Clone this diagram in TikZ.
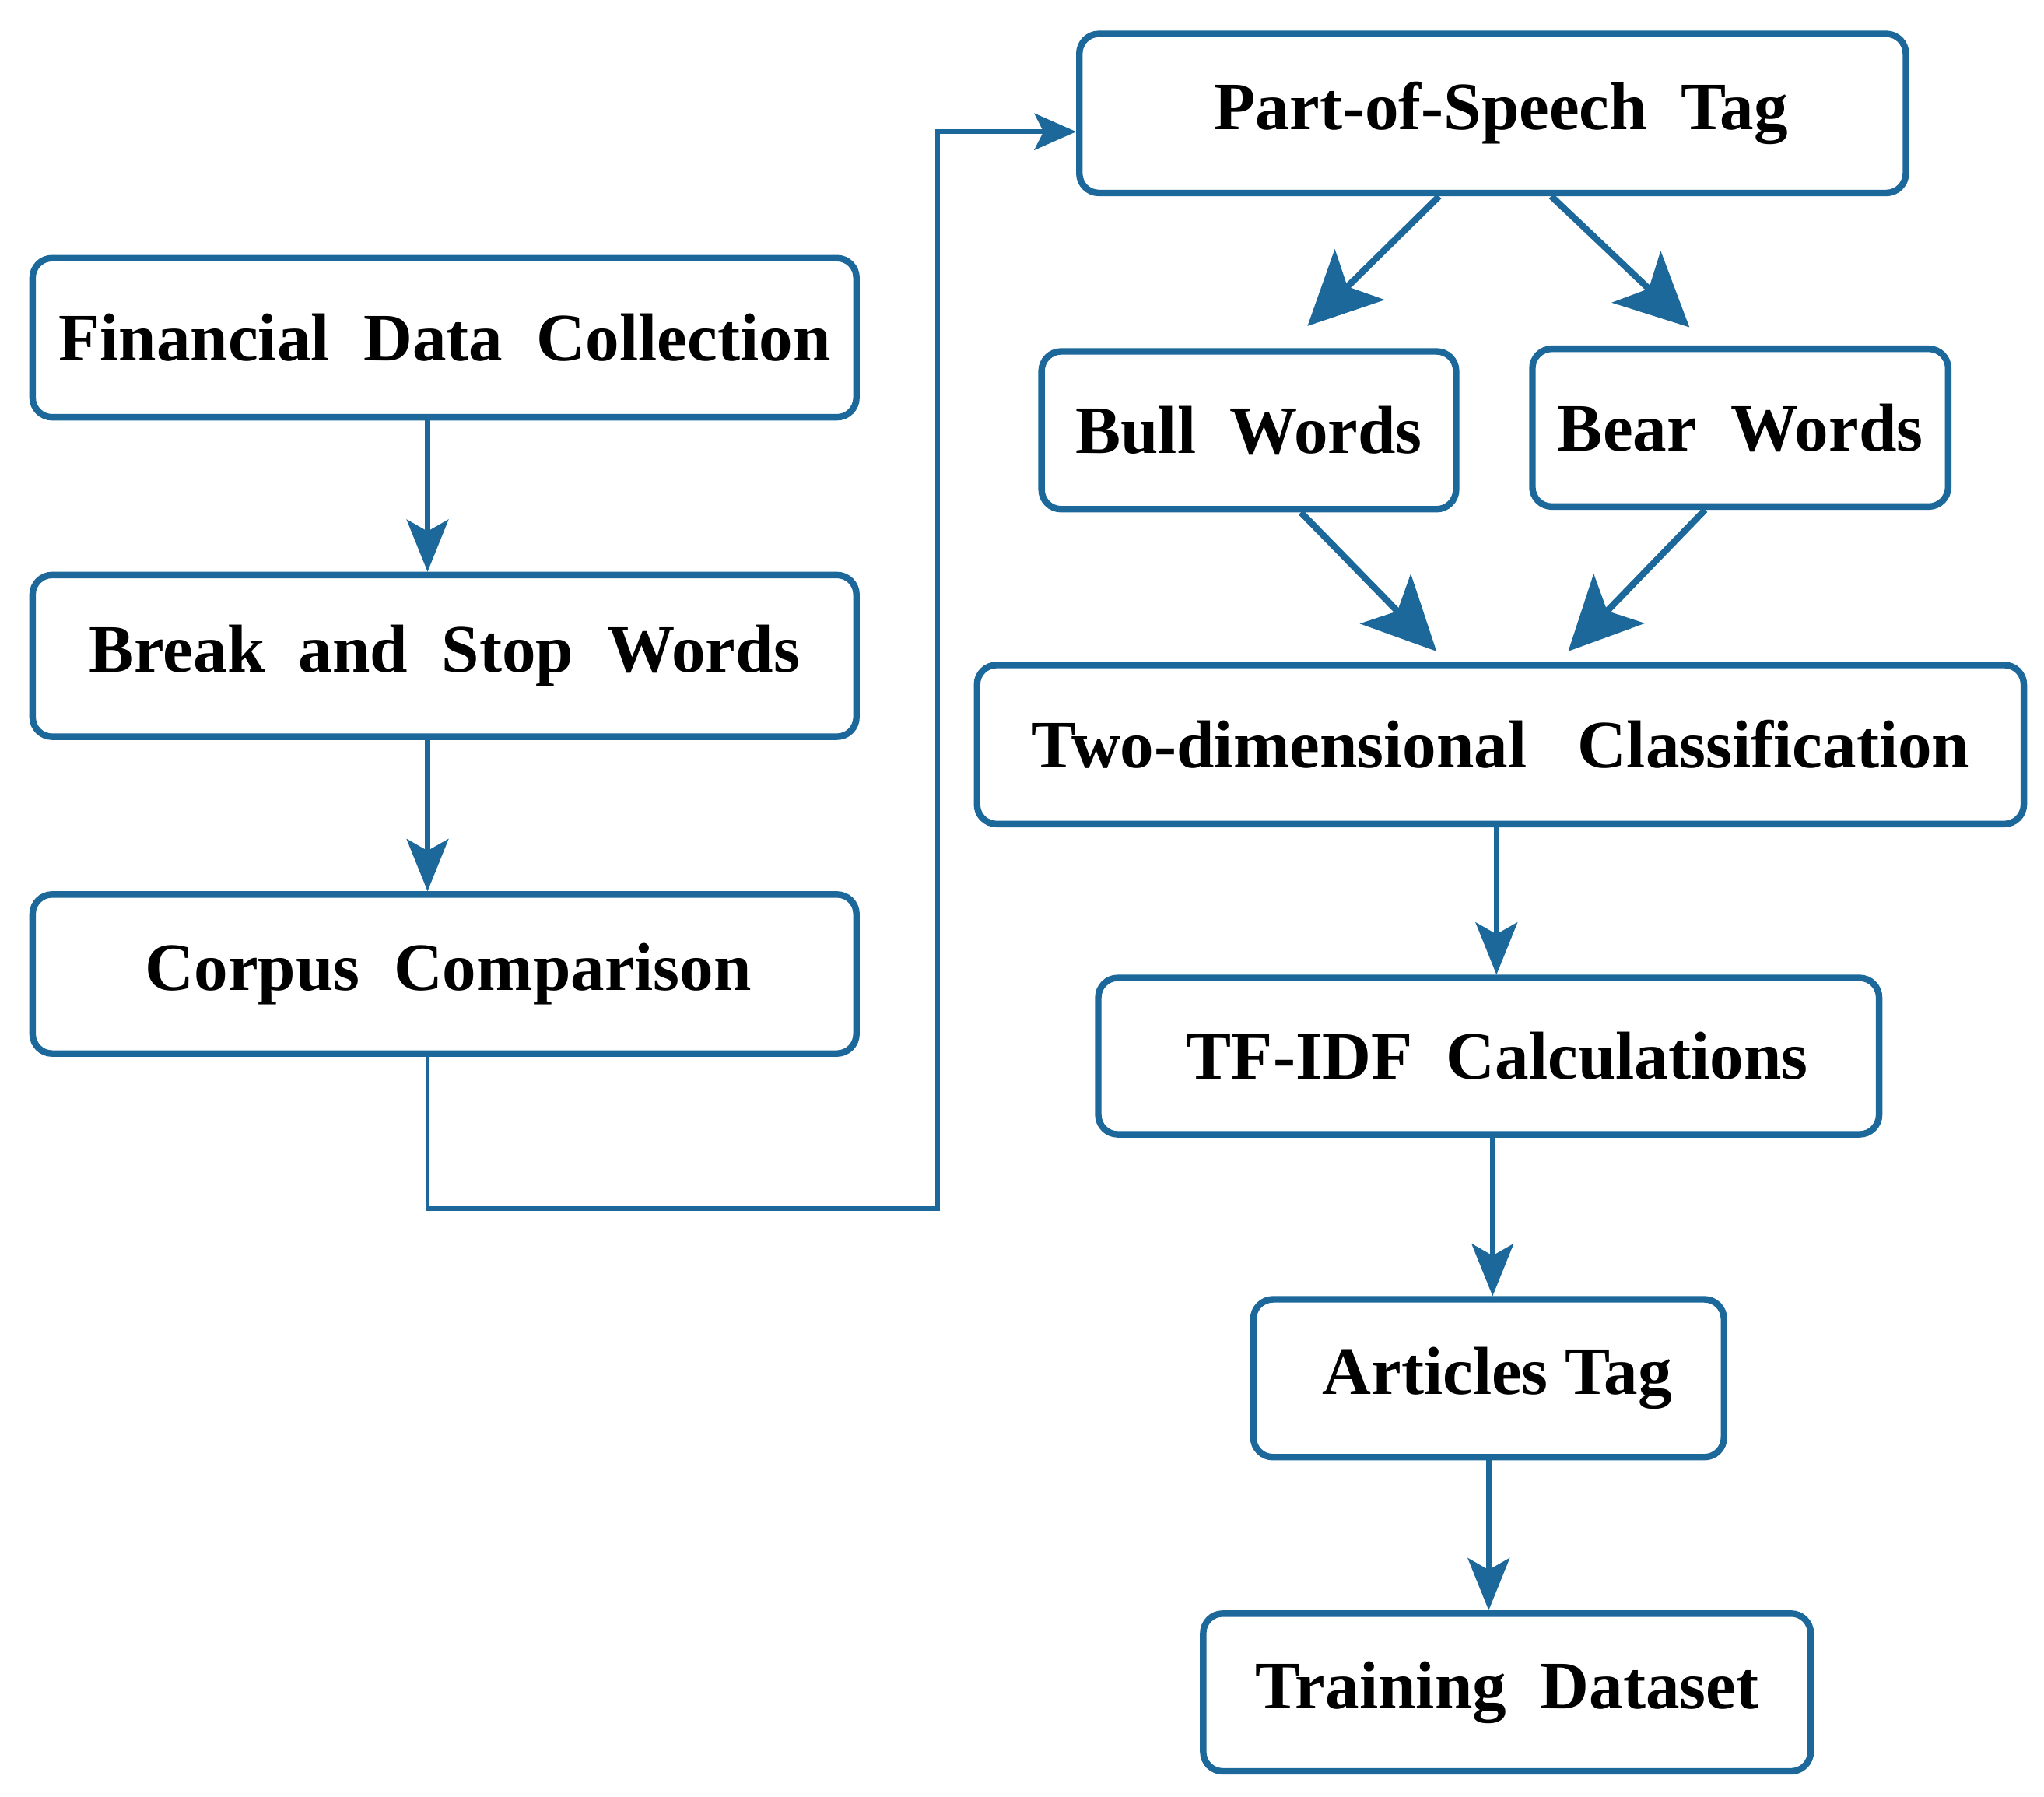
\documentclass[tikz,border=0pt]{standalone}
\usepackage{fontspec}
\setmainfont{Liberation Serif}
\usetikzlibrary{arrows.meta}
\definecolor{bl}{RGB}{28,104,154}
\begin{document}
\begin{tikzpicture}[x=1pt,y=-1pt,
  box/.style={draw=bl,line width=5pt,rounded corners=15pt,fill=white,inner sep=0pt,
    font=\fontsize{52}{62}\selectfont\bfseries},
  arr/.style={draw=bl,line width=4pt,-{Stealth[length=40pt,width=32pt,inset=9pt]}},
  darr/.style={draw=bl,line width=5pt,-{Stealth[length=56pt,width=54pt,inset=13pt]}},
  harr/.style={draw=bl,line width=3.5pt,-{Stealth[length=32pt,width=28pt,inset=7pt]}}]
\useasboundingbox (0,0) rectangle (1568,1378);
\node[box,minimum width=632pt,minimum height=122pt] (fin) at (341,259) {Financial~~Data~~Collection};
\node[box,minimum width=632pt,minimum height=124pt] (brk) at (341,503) {Break~~and~~Stop~~Words};
\node[box,minimum width=632pt,minimum height=122pt] (corp) at (341,747) {\hspace*{6pt}Corpus~~Comparison};
\node[box,minimum width=634pt,minimum height=122pt] (pos) at (1145,87) {~Part-of-Speech~~Tag};
\node[box,minimum width=318pt,minimum height=121pt] (bull) at (958,330) {Bull~~Words};
\node[box,minimum width=319pt,minimum height=121pt] (bear) at (1335,328) {Bear~~Words};
\node[box,minimum width=803pt,minimum height=122pt] (two) at (1151,571) {Two-dimensional~~~Classification};
\node[box,minimum width=599pt,minimum height=120pt] (tf) at (1142,810) {~TF-IDF~~Calculations};
\node[box,minimum width=361pt,minimum height=121pt] (art) at (1142,1057) {~Articles Tag};
\node[box,minimum width=466pt,minimum height=121pt] (train) at (1156,1298) {Training~~Dataset};
\coordinate (c1) at (719,927);
\draw[arr] ([xshift=-13pt]fin.south) -- ([xshift=-13pt]brk.north);
\draw[arr] ([xshift=-13pt]brk.south) -- ([xshift=-13pt]corp.north);
\draw[harr] ([xshift=-13pt]corp.south) |- (c1) |- ([yshift=-14pt]pos.west);
\draw[darr] ([xshift=-41pt]pos.south) -- ([xshift=45pt,yshift=17pt]bull.north);
\draw[darr] ([xshift=45pt]pos.south) -- ([xshift=-39pt,yshift=14pt]bear.north);
\draw[darr] ([xshift=40pt]bull.south) -- ([xshift=-49pt,yshift=8pt]two.north);
\draw[darr] ([xshift=-27pt]bear.south) -- ([xshift=52pt,yshift=8pt]two.north);
\draw[arr] ([xshift=-3pt]two.south) -- ([xshift=-3pt]two.south |- tf.north);
\draw[arr] ([xshift=3pt]tf.south) -- ([xshift=3pt]tf.south |- art.north);
\draw[arr] (art.south) -- (art.south |- train.north);
\end{tikzpicture}
\end{document}
